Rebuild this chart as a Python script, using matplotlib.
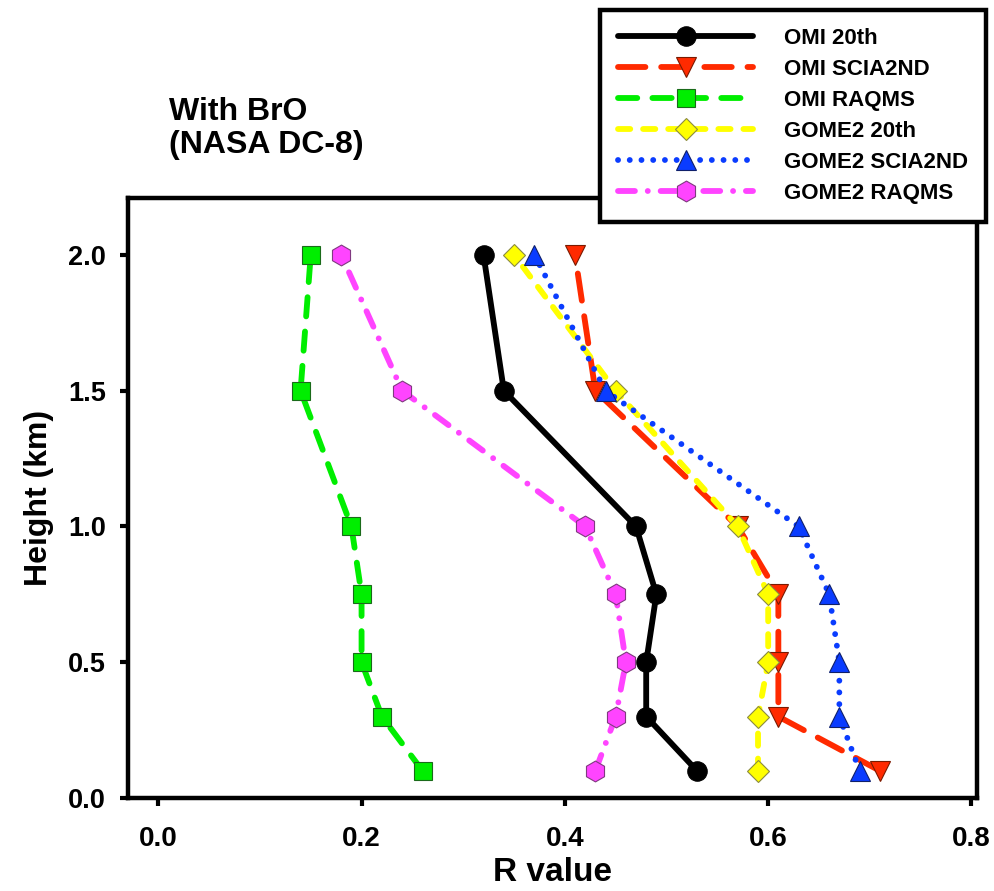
import matplotlib
matplotlib.use("Agg")
import matplotlib.pyplot as plt
from matplotlib import font_manager

# Heights of the profile levels (km)
heights = [0.1, 0.3, 0.5, 0.75, 1.0, 1.5, 2.0]

# Correlation (R) of each product with DC-8 BrO at each level
omi_20th = [0.53, 0.48, 0.48, 0.49, 0.47, 0.34, 0.32]
omi_scia2nd = [0.71, 0.61, 0.61, 0.61, 0.57, 0.43, 0.41]
omi_raqms = [0.26, 0.22, 0.20, 0.20, 0.19, 0.14, 0.15]
gome2_20th = [0.59, 0.59, 0.60, 0.60, 0.57, 0.45, 0.35]
gome2_scia2nd = [0.69, 0.67, 0.67, 0.66, 0.63, 0.44, 0.37]
gome2_raqms = [0.43, 0.45, 0.46, 0.45, 0.42, 0.24, 0.18]

series_names = ["OMI 20th", "OMI SCIA2ND", "OMI RAQMS",
                "GOME2 20th", "GOME2 SCIA2ND", "GOME2 RAQMS"]
x_ticks = [0.0, 0.2, 0.4, 0.6, 0.8]
y_ticks = [0.0, 0.5, 1.0, 1.5, 2.0]

names = {f.name for f in font_manager.fontManager.ttflist}
base_font = "Liberation Sans" if "Liberation Sans" in names else "DejaVu Sans"

plt.rcParams["font.family"] = [base_font, "DejaVu Sans"]
plt.rcParams["font.weight"] = "bold"

LW = 4.2

fig = plt.figure(figsize=(9.95, 8.91), dpi=100)
ax = fig.add_axes([0.1286, 0.1044, 0.8535, 0.6734])

styles = [
    dict(color="black", ls="-", marker="o", mfc="black", mec="black", ms=14),
    dict(color="#ff2a00", ls=(0, (4.7, 2.7)), marker="v", mfc="#ff2a00", mec="#7a1a00", ms=15),
    dict(color="#00ee00", ls=(0, (3.3, 2.6)), marker="s", mfc="#00ee00", mec="#1a6a1a", ms=12.5),
    dict(color="#ffff00", ls=(0, (2.1, 2.2)), marker="D", mfc="#ffff00", mec="#8a8a40", ms=11.5),
    dict(color="#0a3cff", ls=(0, (0.01, 2.0)), marker="^", mfc="#0a3cff", mec="#10206a", ms=15),
    dict(color="#ff44ff", ls=(0, (2.9, 2.2, 0.01, 2.2)), marker="h", mfc="#ff44ff",
         mec="#803a80", ms=15),
]
data = [omi_20th, omi_scia2nd, omi_raqms, gome2_20th, gome2_scia2nd, gome2_raqms]

handles = []
for vals, name, st in zip(data, series_names, styles):
    st = dict(st)
    color = st.pop("color")
    ls = st.pop("ls")
    h, = ax.plot(vals, heights, color=color, linestyle=ls, lw=LW,
                 markeredgewidth=0.8, label=name, dash_capstyle="round",
                 solid_capstyle="round", clip_on=False, zorder=3, **st)
    handles.append(h)

ax.set_xlim(-0.0298, 0.8056)
ax.set_ylim(0, 2.21)
ax.set_xticks(x_ticks)
ax.set_yticks(y_ticks)
ax.set_xticklabels([f"{v:.1f}" for v in x_ticks], fontsize=20, fontweight="bold")
ax.set_yticklabels([f"{v:.1f}" for v in y_ticks], fontsize=19.5, fontweight="bold")
ax.tick_params(axis="both", direction="out", length=6, width=3)
ax.tick_params(axis="x", pad=14)
ax.tick_params(axis="y", pad=10)
for sp in ax.spines.values():
    sp.set_linewidth(3.2)

ax.set_xlabel("R value", fontsize=24, fontweight="bold", labelpad=4)
ax.set_ylabel("Height (km)", fontsize=23, fontweight="bold", labelpad=10)

fig.text(0.170, 0.856, "With BrO\n(NASA DC-8)", fontsize=23, fontweight="bold",
         va="center", ha="left", linespacing=1.15)

leg = fig.legend(handles=handles, loc="upper left", bbox_to_anchor=(0.603, 0.9888),
                 borderaxespad=0, handlelength=6.1, handletextpad=1.4,
                 labelspacing=0.45, borderpad=0.8, frameon=True, fancybox=False,
                 edgecolor="black", framealpha=1,
                 prop={"weight": "bold", "size": 16, "family": base_font})
leg.get_frame().set_linewidth(3.2)
for lh in leg.legend_handles:
    lh.set_linewidth(LW)

fig.savefig("out.png", dpi=100)
